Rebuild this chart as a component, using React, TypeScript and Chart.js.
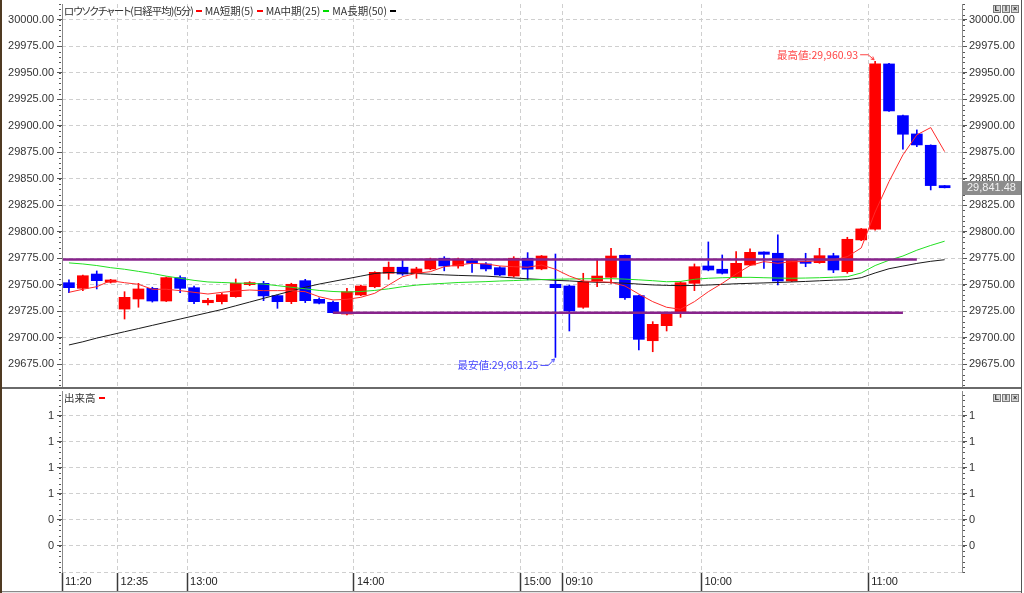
import React, { useEffect, useRef } from 'react';
import { Chart, registerables } from 'chart.js';

Chart.register(...registerables);

// ---------------- data ----------------
const times = [
  '11:20', '11:25', '11:30', '12:30', '12:35', '12:40', '12:45', '12:50', '12:55',
  '13:00', '13:05', '13:10', '13:15', '13:20', '13:25', '13:30', '13:35', '13:40', '13:45', '13:50', '13:55',
  '14:00', '14:05', '14:10', '14:15', '14:20', '14:25', '14:30', '14:35', '14:40', '14:45', '14:50', '14:55',
  '15:00',
  '09:00', '09:05', '09:10', '09:15', '09:20', '09:25', '09:30', '09:35', '09:40', '09:45', '09:50', '09:55',
  '10:00', '10:05', '10:10', '10:15', '10:20', '10:25', '10:30', '10:35', '10:40', '10:45', '10:50', '10:55',
  '11:00', '11:05', '11:10', '11:15', '11:20', '11:25',
];

const opens = [
  29751.8, 29746.5, 29760.0, 29752.2, 29726.9, 29736.4, 29746.5, 29734.5, 29756.6, 29747.1,
  29732.9, 29733.9, 29738.6, 29750.0, 29751.2, 29739.6, 29733.9, 29753.7, 29736.1, 29733.3,
  29722.2, 29740.2, 29748.0, 29760.7, 29766.4, 29760.7, 29764.8, 29774.9, 29767.6, 29773.3,
  29769.5, 29766.0, 29758.1, 29774.9, 29764.8, 29750.3, 29748.7, 29728.6, 29753.7, 29756.9,
  29777.7, 29739.6, 29697.0, 29711.2, 29724.4, 29751.2, 29767.6, 29764.5, 29756.6, 29768.5,
  29780.8, 29779.6, 29753.4, 29771.7, 29770.7, 29777.3, 29762.2, 29792.2, 29802.3, 29958.4,
  29909.6, 29892.3, 29881.6, 29843.5,
];
const highs = [
  29754.4, 29759.1, 29762.9, 29755.0, 29743.3, 29751.2, 29747.5, 29757.2, 29758.4, 29748.5,
  29737.1, 29741.8, 29755.3, 29752.8, 29753.1, 29740.2, 29751.3, 29755.0, 29737.5, 29734.5,
  29746.5, 29749.5, 29762.2, 29771.4, 29773.3, 29766.4, 29775.0, 29776.4, 29775.0, 29774.9,
  29770.8, 29767.0, 29776.4, 29780.2, 29777.5, 29778.9, 29749.5, 29760.7, 29773.3, 29784.3,
  29778.0, 29740.2, 29715.0, 29722.8, 29752.8, 29769.5, 29790.3, 29778.0, 29781.1, 29783.7,
  29781.0, 29796.9, 29774.0, 29779.6, 29784.3, 29779.6, 29794.7, 29803.0, 29960.93, 29959.0,
  29910.0, 29896.1, 29882.0, 29843.6,
];
const lows = [
  29742.4, 29744.3, 29745.9, 29751.5, 29717.5, 29728.6, 29733.5, 29734.0, 29742.4, 29732.0,
  29730.8, 29731.8, 29738.0, 29749.0, 29734.8, 29727.6, 29732.0, 29733.0, 29731.8, 29723.2,
  29721.3, 29739.5, 29747.0, 29755.0, 29758.8, 29756.0, 29764.0, 29763.0, 29765.5, 29761.6,
  29762.9, 29758.5, 29757.0, 29754.4, 29764.0, 29681.25, 29706.2, 29727.6, 29748.0, 29751.2,
  29736.0, 29688.2, 29686.6, 29706.2, 29719.1, 29744.3, 29763.0, 29760.0, 29756.0, 29767.9,
  29765.4, 29749.6, 29752.8, 29766.9, 29770.1, 29761.3, 29760.7, 29791.5, 29801.5, 29913.5,
  29877.8, 29880.3, 29839.4, 29841.3,
];
const closes = [
  29747.1, 29758.4, 29753.7, 29754.4, 29738.0, 29745.9, 29734.5, 29756.6, 29746.5, 29733.9,
  29735.2, 29740.5, 29751.2, 29751.8, 29739.3, 29733.9, 29750.3, 29734.8, 29732.4, 29723.5,
  29743.3, 29748.7, 29761.6, 29766.4, 29760.0, 29764.8, 29774.2, 29767.6, 29774.2, 29770.1,
  29764.8, 29759.1, 29774.9, 29764.5, 29777.0, 29747.1, 29725.1, 29752.8, 29758.1, 29777.0,
  29737.6, 29698.3, 29712.5, 29722.2, 29751.8, 29766.9, 29763.8, 29760.7, 29770.1, 29780.5,
  29778.6, 29753.4, 29773.3, 29770.1, 29777.3, 29763.8, 29792.8, 29802.6, 29958.4, 29914.0,
  29892.0, 29881.9, 29843.5, 29841.48,
];

const ma5 = [
  29742.7, 29745.6, 29748.0, 29753.7, 29751.8, 29750.3, 29745.6, 29745.6, 29744.3, 29742.7,
  29741.1, 29742.7, 29744.0, 29744.9, 29744.3, 29744.3, 29744.3, 29743.3, 29738.6, 29735.5,
  29736.1, 29738.0, 29741.8, 29749.6, 29757.5, 29760.7, 29762.2, 29766.9, 29768.5, 29770.1,
  29769.5, 29767.6, 29766.9, 29766.4, 29768.5, 29764.5, 29758.1, 29753.4, 29752.8, 29752.2,
  29748.7, 29741.1, 29733.9, 29728.6, 29726.7, 29733.9, 29743.3, 29751.2, 29760.0, 29768.0,
  29771.7, 29770.1, 29771.7, 29771.7, 29772.6, 29773.3, 29776.4, 29784.6, 29818.6, 29847.3,
  29872.5, 29891.4, 29898.3, 29875.6,
];
const ma25 = [
  29770.5, 29769.5, 29768.0, 29766.0, 29764.5, 29762.5, 29760.5, 29758.0, 29756.0, 29754.0,
  29752.5, 29752.0, 29751.5, 29751.2, 29750.5, 29749.0, 29747.5, 29746.0, 29744.5, 29743.5,
  29743.0, 29743.5, 29744.5, 29746.0, 29748.0, 29749.5, 29750.5, 29751.2, 29752.0, 29752.4,
  29752.8, 29753.4, 29753.8, 29754.4, 29754.7, 29755.0, 29755.3, 29755.5, 29755.6, 29755.6,
  29755.2, 29754.5, 29753.7, 29752.7, 29753.0, 29755.0, 29756.0, 29756.5, 29756.8, 29756.9,
  29756.5, 29756.2, 29756.0, 29756.2, 29756.5, 29757.0, 29757.5, 29761.0, 29768.0, 29773.0,
  29777.0, 29782.5, 29787.0, 29791.0,
];
const ma50 = [
  29693.0, 29696.0, 29699.5, 29702.5, 29705.5, 29708.5, 29711.5, 29714.5, 29717.5, 29720.5,
  29723.5, 29726.5, 29730.0, 29733.5, 29737.0, 29740.5, 29744.0, 29747.5, 29750.5, 29753.0,
  29755.5, 29758.0, 29760.5, 29761.5, 29761.0, 29760.5, 29759.8, 29759.2, 29758.7, 29758.3,
  29758.0, 29757.2, 29756.3, 29755.5, 29754.8, 29754.0, 29753.5, 29752.7, 29752.2, 29751.9,
  29751.3, 29750.5, 29749.7, 29749.3, 29749.0, 29749.2, 29749.6, 29750.2, 29750.8, 29751.2,
  29751.6, 29752.0, 29752.5, 29753.0, 29753.6, 29754.2, 29754.6, 29756.5, 29761.0, 29765.0,
  29767.5, 29770.0, 29772.0, 29773.5,
];

const resistanceLevel = 29773.75;
const resistanceSpan = [-1, 61];
const supportLevel = 29723.5;
const supportSpan = [19, 60];

const priceTicks = [29675, 29700, 29725, 29750, 29775, 29800, 29825, 29850, 29875, 29900, 29925, 29950, 29975, 30000];
const timeTickLabels = ['11:20', '12:35', '13:00', '14:00', '15:00', '09:10', '10:00', '11:00'];

const volumes: number[] = []; // 指数のため出来高なし
const volTicks = [0, 0.25, 0.5, 0.75, 1, 1.25];
const volTickLabels = ['0', '0', '1', '1', '1', '1'];

const seriesNames = ['ロウソクチャート(日経平均)(5分)', 'MA短期(5)', 'MA中期(25)', 'MA長期(50)'];
const seriesColors = ['#ff0000', '#ff0000', '#00dd00', '#000000'];
const volumeName = '出来高';

// ---------------- style ----------------
const X_RANGE = [-0.5, 64.25];
const PRICE_RANGE = [29653.3, 30015];
const VOL_RANGE = [-0.26, 1.49];
const FONT_NUM = '"Liberation Sans", Arial, sans-serif';
const FONT_JP = '"Noto Sans CJK JP", sans-serif';
const GRID = '#cfcfcf';
const AXIS = '#8a8a8a';
const TXT = '#333333';
const PURPLE = '#87238c';
const UP = '#ff0000';
const DOWN = '#0000ff';

const timeTickPos = timeTickLabels.map((l) => times.indexOf(l) - 0.5);
const candleColors = closes.map((c, i) => (c >= opens[i] ? UP : DOWN));

const fmt = (n: number) => n.toLocaleString('en-US', { minimumFractionDigits: 2, maximumFractionDigits: 2 });

function drawButtons(ctx: CanvasRenderingContext2D, top: number) {
  const glyphs = ['L', 'I', '×'];
  glyphs.forEach((g, k) => {
    const x = 993 + k * 9;
    ctx.fillStyle = '#d6d6d6';
    ctx.fillRect(x, top, 8, 8);
    ctx.strokeStyle = '#7a7a7a';
    ctx.lineWidth = 1;
    ctx.strokeRect(x + 0.5, top + 0.5, 7, 7);
    ctx.fillStyle = '#222';
    ctx.font = 'bold 7px ' + FONT_NUM;
    ctx.textAlign = 'center';
    ctx.textBaseline = 'middle';
    ctx.fillText(g, x + 4, top + 4.5);
  });
}

function drawAxesLines(ctx: CanvasRenderingContext2D, ca: any) {
  ctx.fillStyle = AXIS;
  ctx.fillRect(Math.round(ca.left), ca.top, 1, ca.bottom - ca.top);
  ctx.fillRect(Math.round(ca.right), ca.top, 1, ca.bottom - ca.top);
}

function drawMinor(ctx: CanvasRenderingContext2D, ca: any, ys: any, step: number) {
  ctx.fillStyle = '#555';
  const k0 = Math.ceil(ys.min / step);
  const k1 = Math.floor(ys.max / step);
  for (let k = k0; k <= k1; k++) {
    const py = Math.round(ys.getPixelForValue(k * step));
    ctx.fillRect(Math.round(ca.left) - 3, py, 2, 1);
    ctx.fillRect(Math.round(ca.right) + 1, py, 2, 1);
  }
}

function drawNote(ctx: CanvasRenderingContext2D, x: number, y: number, text: string, color: string, dir: number) {
  const ty = y + (dir < 0 ? -6.5 : 8);
  ctx.font = '10.5px ' + FONT_JP;
  ctx.textAlign = 'right';
  ctx.textBaseline = 'middle';
  ctx.fillStyle = color;
  ctx.fillText(text, x - 17, ty);
  ctx.strokeStyle = color;
  ctx.lineWidth = 1;
  const ex = x - 1;
  const ey = y + (dir < 0 ? -1.5 : 1.5);
  ctx.beginPath();
  ctx.moveTo(x - 15, ty);
  ctx.lineTo(x - 7, ty);
  ctx.lineTo(ex, ey);
  ctx.stroke();
  const ang = Math.atan2(ey - ty, ex - (x - 7));
  ctx.beginPath();
  ctx.moveTo(ex - 3.5 * Math.cos(ang - 0.5), ey - 3.5 * Math.sin(ang - 0.5));
  ctx.lineTo(ex, ey);
  ctx.lineTo(ex - 3.5 * Math.cos(ang + 0.5), ey - 3.5 * Math.sin(ang + 0.5));
  ctx.stroke();
}

const mainDeco = {
  id: 'mainDeco',
  afterDraw(chart: any) {
    const { ctx, chartArea: ca, scales } = chart;
    const xs = scales.x;
    const ys = scales.y;
    ctx.save();
    drawAxesLines(ctx, ca);
    drawMinor(ctx, ca, ys, 5);

    const hi = Math.max(...highs);
    const hiIdx = highs.indexOf(hi);
    const lo = Math.min(...lows);
    const loIdx = lows.indexOf(lo);
    drawNote(ctx, xs.getPixelForValue(hiIdx), ys.getPixelForValue(hi), '最高値:' + fmt(hi), '#ff4545', -1);
    drawNote(ctx, xs.getPixelForValue(loIdx), ys.getPixelForValue(lo), '最安値:' + fmt(lo), '#4545ff', 1);

    const last = closes[closes.length - 1];
    const py = ys.getPixelForValue(last);
    ctx.fillStyle = '#8c8c8c';
    ctx.fillRect(Math.round(ca.right), Math.round(py - 7), 59, 14);
    ctx.fillStyle = '#f2f2f2';
    ctx.font = '11px ' + FONT_NUM;
    ctx.textAlign = 'left';
    ctx.textBaseline = 'middle';
    ctx.fillText(fmt(last), ca.right + 5, py + 0.5);

    drawButtons(ctx, 5);
    ctx.restore();
  },
};

const volDeco = {
  id: 'volDeco',
  afterDraw(chart: any) {
    const { ctx, chartArea: ca, scales } = chart;
    ctx.save();
    ctx.strokeStyle = GRID;
    ctx.setLineDash([4, 3]);
    ctx.lineWidth = 1;
    ctx.beginPath();
    ctx.moveTo(ca.left, Math.round(ca.bottom) - 0.5);
    ctx.lineTo(ca.right, Math.round(ca.bottom) - 0.5);
    ctx.stroke();
    ctx.setLineDash([]);
    drawAxesLines(ctx, ca);
    drawMinor(ctx, ca, scales.y, 0.05);
    drawButtons(ctx, 4);
    ctx.restore();
  },
};

const numFont = { family: FONT_NUM, size: 11 };

function yAxis(position: 'left' | 'right', range: number[], ticks: number[], label: (v: number, i: number) => string, gridOnArea: boolean) {
  return {
    type: 'linear',
    position,
    min: range[0],
    max: range[1],
    afterBuildTicks: (s: any) => {
      s.ticks = ticks.map((v) => ({ value: v }));
    },
    afterFit: (s: any) => {
      s.width = 62;
      s.paddingTop = 0;
      s.paddingBottom = 0;
    },
    ticks: {
      callback: (v: any, i: number) => label(Number(v), i),
      color: TXT,
      font: numFont,
      padding: position === 'left' ? 3 : 2,
      autoSkip: false,
    },
    grid: {
      drawOnChartArea: gridOnArea,
      color: GRID,
      lineWidth: 1,
      drawTicks: true,
      tickLength: 5,
      tickColor: '#555',
      tickBorderDash: [],
    },
    border: { display: false, dash: [4, 3] },
  };
}

function xAxis(showLabels: boolean) {
  return {
    type: 'linear',
    min: X_RANGE[0],
    max: X_RANGE[1],
    offset: false,
    afterBuildTicks: (s: any) => {
      s.ticks = timeTickPos.map((v) => ({ value: v }));
    },
    afterFit: (s: any) => {
      s.height = showLabels ? 18 : 0;
      s.paddingLeft = 0;
      s.paddingRight = 0;
    },
    ticks: showLabels
      ? {
          callback: (_v: any, i: number) => timeTickLabels[i],
          align: 'start',
          labelOffset: 3,
          padding: -16,
          color: '#222',
          font: numFont,
          autoSkip: false,
          maxRotation: 0,
        }
      : { display: false },
    grid: {
      color: GRID,
      drawTicks: showLabels,
      tickLength: 18,
      tickColor: '#3a3a3a',
      tickWidth: 1.5,
      tickBorderDash: [],
      offset: false,
    },
    border: { display: false, dash: [4, 3] },
  };
}

function mainConfig(): any {
  const lineBase = { type: 'line', pointRadius: 0, tension: 0, fill: false, clip: 0 };
  return {
    type: 'bar',
    data: {
      datasets: [
        { ...lineBase, label: 'resistance', data: resistanceSpan.map((x) => ({ x, y: resistanceLevel })), borderColor: PURPLE, borderWidth: 2.5, order: 0 },
        { ...lineBase, label: 'support', data: supportSpan.map((x) => ({ x, y: supportLevel })), borderColor: PURPLE, borderWidth: 2.5, order: 0 },
        { ...lineBase, label: seriesNames[1], data: ma5.map((y, x) => ({ x, y })), borderColor: '#ff2a2a', borderWidth: 1, order: 1 },
        { ...lineBase, label: seriesNames[2], data: ma25.map((y, x) => ({ x, y })), borderColor: '#22e022', borderWidth: 1, order: 1 },
        { ...lineBase, label: seriesNames[3], data: ma50.map((y, x) => ({ x, y })), borderColor: '#1a1a1a', borderWidth: 1, order: 1 },
        {
          type: 'bar',
          label: seriesNames[0],
          data: opens.map((o, x) => ({ x, y: [o, closes[x]] })),
          backgroundColor: candleColors,
          barThickness: 11,
          maxBarThickness: 11,
          minBarLength: 2,
          grouped: false,
          order: 2,
        },
        {
          type: 'bar',
          label: 'wick',
          data: lows.map((l, x) => ({ x, y: [l, highs[x]] })),
          backgroundColor: candleColors,
          barThickness: 1,
          maxBarThickness: 1,
          grouped: false,
          order: 3,
        },
      ],
    },
    options: {
      animation: false,
      responsive: false,
      devicePixelRatio: 1,
      layout: { padding: { top: 4, bottom: 3, left: 0, right: 0 } },
      plugins: { legend: { display: false }, tooltip: { enabled: false } },
      scales: {
        x: xAxis(false),
        y: yAxis('left', PRICE_RANGE, priceTicks, (v) => v.toFixed(2), true),
        y2: yAxis('right', PRICE_RANGE, priceTicks, (v) => v.toFixed(2), false),
      },
    },
    plugins: [mainDeco],
  };
}

function volConfig(): any {
  return {
    type: 'bar',
    data: {
      datasets: [
        {
          label: volumeName,
          data: volumes.map((y, x) => ({ x, y })),
          backgroundColor: UP,
          barThickness: 11,
          maxBarThickness: 11,
          grouped: false,
        },
      ],
    },
    options: {
      animation: false,
      responsive: false,
      devicePixelRatio: 1,
      layout: { padding: { top: 1, bottom: 2, left: 0, right: 0 } },
      plugins: { legend: { display: false }, tooltip: { enabled: false } },
      scales: {
        x: xAxis(true),
        y: yAxis('left', VOL_RANGE, volTicks, (_v, i) => volTickLabels[i], true),
        y2: yAxis('right', VOL_RANGE, volTicks, (_v, i) => volTickLabels[i], false),
      },
    },
    plugins: [volDeco],
  };
}

function Dash({ color }: { color: string }) {
  return <span style={{ display: 'inline-block', width: 6, height: 2, background: color, margin: '0 3px' }} />;
}

export default function App() {
  const mainRef = useRef<HTMLCanvasElement>(null);
  const volRef = useRef<HTMLCanvasElement>(null);

  useEffect(() => {
    const c1 = new Chart(mainRef.current as HTMLCanvasElement, mainConfig());
    const c2 = new Chart(volRef.current as HTMLCanvasElement, volConfig());
    return () => {
      c1.destroy();
      c2.destroy();
    };
  }, []);

  const legendStyle: React.CSSProperties = {
    position: 'absolute',
    left: 64,
    font: '10.5px ' + FONT_JP,
    lineHeight: '12px',
    color: TXT,
    whiteSpace: 'nowrap',
    display: 'flex',
    alignItems: 'center',
    fontFeatureSettings: '"palt"',
  };

  return (
    <div style={{ position: 'absolute', left: 0, top: 0, width: 1024, height: 593, background: '#fff', overflow: 'hidden' }}>
      <canvas ref={mainRef} width={1024} height={390} style={{ position: 'absolute', left: 0, top: 0 }} />
      <canvas ref={volRef} width={1024} height={203} style={{ position: 'absolute', left: 0, top: 390 }} />
      {/* frame */}
      <div style={{ position: 'absolute', left: 0, top: 0, width: 2, height: 593, background: '#4f3a22' }} />
      <div style={{ position: 'absolute', left: 2, top: 387, width: 1020, height: 2, background: '#6a6a6a' }} />
      <div style={{ position: 'absolute', left: 1021, top: 0, width: 1, height: 593, background: '#555' }} />
      <div style={{ position: 'absolute', left: 2, top: 591, width: 1019, height: 1, background: '#8a8a8a' }} />
      <div style={{ position: 'absolute', left: 2, top: 592, width: 1019, height: 1, background: '#e4e4e4' }} />
      {/* legends */}
      <div style={{ ...legendStyle, top: 5 }}>
        {seriesNames.map((n, i) => (
          <React.Fragment key={n}>
            <span style={i === 0 ? { letterSpacing: '-1px' } : undefined}>{n}</span>
            <Dash color={seriesColors[i]} />
          </React.Fragment>
        ))}
      </div>
      <div style={{ ...legendStyle, top: 392 }}>
        <span>{volumeName}</span>
        <Dash color={UP} />
      </div>
    </div>
  );
}
